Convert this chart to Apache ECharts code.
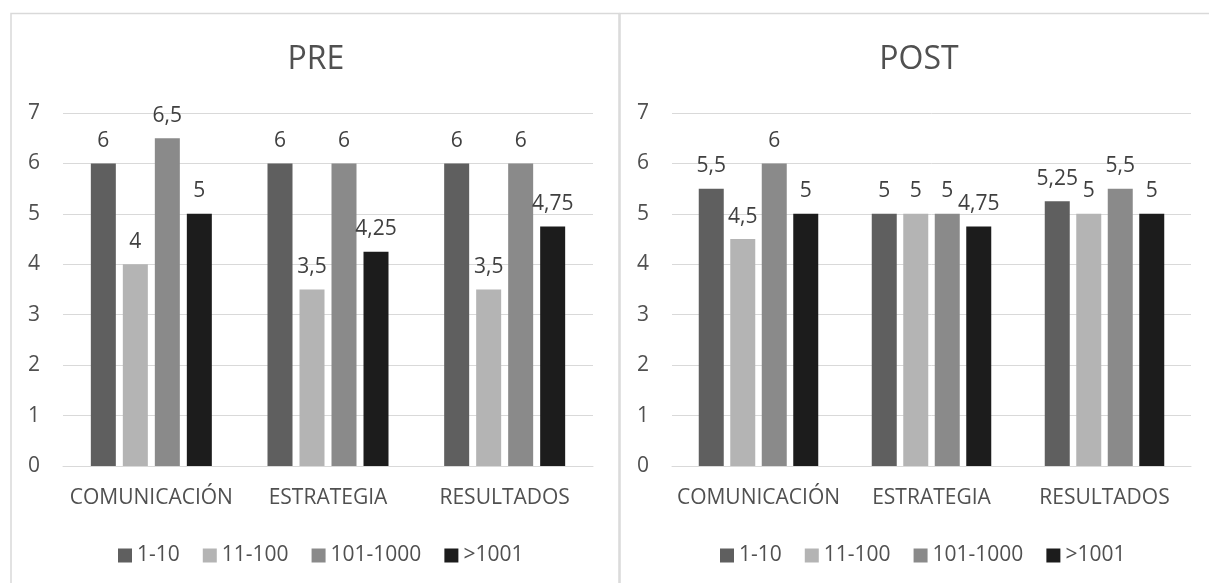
<!DOCTYPE html>
<html>
<head>
<meta charset="utf-8">
<script src="https://cdn.jsdelivr.net/npm/echarts@6/dist/echarts.min.js"></script>
<style>
  html, body { margin: 0; padding: 0; background: #ffffff; }
  #chart { width: 1209px; height: 583px; }
</style>
</head>
<body>
<div id="chart"></div>
<script>
// Category labels and company-size groups
const categories = ['COMUNICACIÓN', 'ESTRATEGIA', 'RESULTADOS'];
const groups = ['1-10', '11-100', '101-1000', '>1001'];
const groupColors = ['#5f5f5f', '#b4b4b4', '#8a8a8a', '#1c1c1c'];

// PRE scores per group (one value per category)
const pre_1_10 = [6, 6, 6];
const pre_11_100 = [4, 3.5, 3.5];
const pre_101_1000 = [6.5, 6, 6];
const pre_1001 = [5, 4.25, 4.75];

// POST scores per group
const post_1_10 = [5.5, 5, 5.25];
const post_11_100 = [4.5, 5, 5];
const post_101_1000 = [6, 5, 5.5];
const post_1001 = [5, 4.75, 5];

const panelTitles = ['PRE', 'POST'];

const preData = [pre_1_10, pre_11_100, pre_101_1000, pre_1001];
const postData = [post_1_10, post_11_100, post_101_1000, post_1001];

const FONT = '"Open Sans", sans-serif';
const TEXT = '#505050';
const GRID_LINE = '#d9d9d9';

function commaNumber(v) {
  return String(v).replace('.', ',');
}

function makeSeries(dataSets, axisIndex, gap) {
  return dataSets.map((values, i) => ({
    name: groups[i],
    type: 'bar',
    xAxisIndex: axisIndex,
    yAxisIndex: axisIndex,
    data: values,
    barWidth: 25,
    barGap: gap,
    itemStyle: { color: groupColors[i] },
    label: {
      show: true,
      position: 'top',
      distance: 12,
      color: '#404040',
      fontFamily: FONT,
      fontSize: 21,
      formatter: p => commaNumber(p.value)
    },
    emphasis: { disabled: true }
  }));
}

function makeXAxis(gridIndex) {
  return {
    type: 'category',
    gridIndex: gridIndex,
    data: categories,
    axisLine: { show: true, lineStyle: { color: GRID_LINE, width: 1 } },
    axisTick: { show: false },
    axisLabel: {
      color: TEXT, fontFamily: FONT, fontSize: 21, margin: 22,
      interval: 0, hideOverlap: false
    }
  };
}

function makeYAxis(gridIndex) {
  return {
    type: 'value',
    gridIndex: gridIndex,
    min: 0,
    max: 7,
    interval: 1,
    axisLine: { show: false },
    axisTick: { show: false },
    splitLine: { lineStyle: { color: GRID_LINE, width: 1 } },
    axisLabel: { color: TEXT, fontFamily: FONT, fontSize: 21, margin: 23 }
  };
}

function makeLegend(left) {
  return {
    left: left,
    top: 545,
    padding: 0,
    icon: 'rect',
    itemWidth: 14,
    itemHeight: 14,
    itemGap: 23,
    selectedMode: false,
    data: groups,
    textStyle: { color: TEXT, fontFamily: FONT, fontSize: 21 }
  };
}

function makeTitle(text, centerX) {
  return {
    text: text, left: centerX, top: 44, padding: 0, textAlign: 'center',
    textStyle: { color: TEXT, fontFamily: FONT, fontSize: 32, fontWeight: 'normal' }
  };
}

const chart = echarts.init(document.getElementById('chart'), null, { renderer: 'canvas' });

chart.setOption({
  backgroundColor: '#ffffff',
  animation: false,
  title: [makeTitle(panelTitles[0], 316), makeTitle(panelTitles[1], 919)],
  legend: [makeLegend(118), makeLegend(720)],
  grid: [
    { left: 63, right: 616, top: 113, bottom: 117 },
    { left: 672, right: 18, top: 113, bottom: 117 }
  ],
  xAxis: [makeXAxis(0), makeXAxis(1)],
  yAxis: [makeYAxis(0), makeYAxis(1)],
  graphic: [
    {
      type: 'rect', silent: true, z: -1,
      shape: { x: 11, y: 13.5, width: 608, height: 620 },
      style: { fill: 'none', stroke: GRID_LINE, lineWidth: 1.5 }
    },
    {
      type: 'rect', silent: true, z: -1,
      shape: { x: 620, y: 13.5, width: 620, height: 620 },
      style: { fill: 'none', stroke: GRID_LINE, lineWidth: 1.5 }
    }
  ],
  series: makeSeries(preData, 0, '28%').concat(makeSeries(postData, 1, '26%'))
});
</script>
</body>
</html>
